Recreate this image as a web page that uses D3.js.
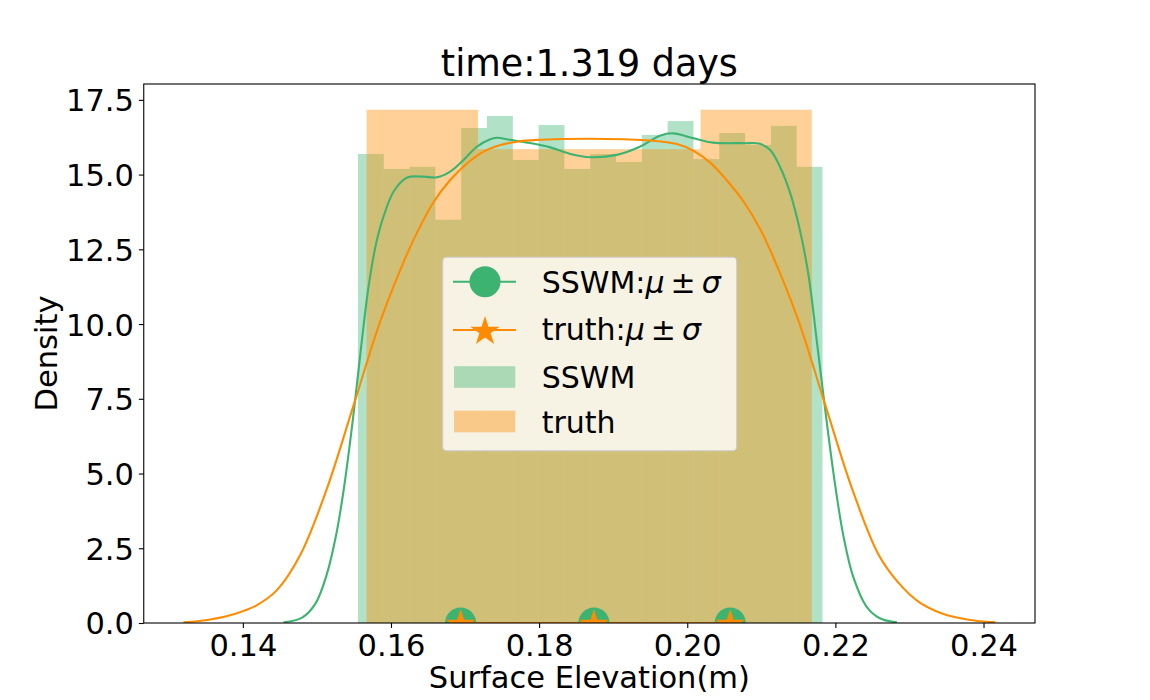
<!DOCTYPE html>
<html>
<head>
<meta charset="utf-8">
<script src="https://cdn.jsdelivr.net/npm/d3@7"></script>
<style>
  body { margin: 0; background: #fff; }
  text { font-family: "DejaVu Sans", sans-serif; }
</style>
</head>
<body>
<div id="chart"></div>
<script>
// Histogram densities
var sswmBinRange = [0.15554, 0.21826];
var sswmDensity = [15.69, 15.19, 15.26, 13.49, 16.56, 16.96, 15.49, 16.66, 15.19,
                   15.69, 15.42, 16.33, 16.79, 15.52, 16.39, 15.99, 16.63, 15.26];
var truthBinRange = [0.15671, 0.21682];
var truthDensity = [17.17, 15.85, 15.85, 17.17];

// KDE curves
var sswmKdeX = [0.1455, 0.1480, 0.1498, 0.1513, 0.1526, 0.1537, 0.1549, 0.1560, 0.1570, 0.1580,
                0.1590, 0.1604, 0.1622, 0.1644, 0.1662, 0.1680, 0.1698, 0.1716, 0.1734, 0.1743,
                0.1761, 0.1784, 0.1815, 0.1842, 0.1869, 0.1905, 0.1936, 0.1963, 0.1981, 0.2008,
                0.2035, 0.2076, 0.2098, 0.2112, 0.2125, 0.2139, 0.2152, 0.2164, 0.2176, 0.2188,
                0.2200, 0.2211, 0.2224, 0.2242, 0.2260, 0.2283];
var sswmKdeY = [0.02, 0.18, 0.65, 1.60, 2.95, 4.60, 6.90, 9.30, 11.30, 12.70,
                13.60, 14.45, 14.90, 14.93, 14.91, 15.10, 15.49, 15.93, 16.18, 16.23,
                16.16, 16.07, 15.91, 15.69, 15.58, 15.66, 15.93, 16.30, 16.38, 16.22,
                16.07, 16.05, 16.03, 15.82, 15.27, 14.38, 13.15, 11.59, 9.20, 6.79,
                4.56, 2.89, 1.55, 0.55, 0.16, 0.02];

var truthKdeX = [0.1320, 0.1356, 0.1392, 0.1419, 0.1446, 0.1478, 0.1514, 0.1550, 0.1586, 0.1622,
                 0.1638, 0.1658, 0.1680, 0.1703, 0.1725, 0.1748, 0.1770, 0.1797, 0.1833, 0.1869,
                 0.1914, 0.1950, 0.1986, 0.2008, 0.2031, 0.2053, 0.2076, 0.2098, 0.2114, 0.2150,
                 0.2186, 0.2222, 0.2258, 0.2285, 0.2313, 0.2344, 0.2380, 0.2416];
var truthKdeY = [0.02, 0.12, 0.33, 0.60, 1.10, 2.30, 4.53, 7.32, 10.12, 12.36,
                 13.20, 14.10, 14.82, 15.38, 15.77, 15.99, 16.10, 16.16, 16.19, 16.20,
                 16.18, 16.14, 16.02, 15.80, 15.40, 14.82, 14.10, 13.20, 12.36, 10.12,
                 7.32, 4.53, 2.30, 1.35, 0.70, 0.32, 0.11, 0.02];

// mean - sigma, mean, mean + sigma
var sswmStats = [0.1694, 0.1874, 0.2058];
var truthStats = [0.1694, 0.1874, 0.2058];

var xTicks = [0.14, 0.16, 0.18, 0.20, 0.22, 0.24];
var yTicks = [0, 2.5, 5, 7.5, 10, 12.5, 15, 17.5];

var green = "#3cb371";
var orange = "#ff8c00";

var svgWidth = 1150;
var svgHeight = 700;
var margin = { top: 84, right: 115, bottom: 77, left: 143.75 };
var width = svgWidth - margin.left - margin.right;
var height = svgHeight - margin.top - margin.bottom;

var svg = d3.select("#chart")
  .append("svg")
  .attr("width", svgWidth)
  .attr("height", svgHeight);

var chartGroup = svg.append("g")
  .attr("transform", `translate(${margin.left}, ${margin.top})`);

svg.append("defs").append("clipPath")
  .attr("id", "plotClip")
  .append("rect")
  .attr("x", 0).attr("y", 0)
  .attr("width", width).attr("height", height);

var xScale = d3.scaleLinear().domain([0.12662, 0.24695]).range([0, width]);
var yScale = d3.scaleLinear().domain([0, 18.03]).range([height, 0]);

function bins(range, values) {
  var step = (range[1] - range[0]) / values.length;
  return values.map(function(v, i) {
    return { x0: range[0] + i * step, x1: range[0] + (i + 1) * step, v: v };
  });
}

var plot = chartGroup.append("g").attr("clip-path", "url(#plotClip)");

// histograms (green first, orange over it)
[[bins(sswmBinRange, sswmDensity), green], [bins(truthBinRange, truthDensity), orange]]
  .forEach(function(h) {
    plot.append("g").selectAll("rect")
      .data(h[0])
      .enter()
      .append("rect")
      .attr("x", d => xScale(d.x0))
      .attr("width", d => xScale(d.x1) - xScale(d.x0))
      .attr("y", d => yScale(d.v))
      .attr("height", d => yScale(0) - yScale(d.v))
      .attr("fill", h[1])
      .attr("fill-opacity", 0.4);
  });

var line = d3.line()
  .x(d => xScale(d[0]))
  .y(d => yScale(d[1]))
  .curve(d3.curveCatmullRom.alpha(0.5));

// KDE lines
plot.append("path")
  .datum(d3.zip(sswmKdeX, sswmKdeY))
  .attr("d", line)
  .attr("fill", "none")
  .attr("stroke", green)
  .attr("stroke-width", 2.1);

plot.append("path")
  .datum(d3.zip(truthKdeX, truthKdeY))
  .attr("d", line)
  .attr("fill", "none")
  .attr("stroke", orange)
  .attr("stroke-width", 2.1);

// mu +- sigma markers
var starR = 15.5;
var star = d3.symbol().type(d3.symbolStar).size(starR * starR / 0.8908130915292852);

plot.append("path")
  .datum(sswmStats.map(d => [d, 0]))
  .attr("d", d3.line().x(d => xScale(d[0])).y(d => yScale(d[1])))
  .attr("stroke", green)
  .attr("stroke-width", 2.1);

plot.selectAll(".sswmDot")
  .data(sswmStats)
  .enter()
  .append("circle")
  .attr("class", "sswmDot")
  .attr("cx", d => xScale(d))
  .attr("cy", yScale(0))
  .attr("r", 15.5)
  .attr("fill", green);

plot.append("path")
  .datum(truthStats.map(d => [d, 0]))
  .attr("d", d3.line().x(d => xScale(d[0])).y(d => yScale(d[1])))
  .attr("stroke", orange)
  .attr("stroke-width", 2.1);

plot.selectAll(".truthStar")
  .data(truthStats)
  .enter()
  .append("path")
  .attr("class", "truthStar")
  .attr("d", star)
  .attr("transform", d => `translate(${xScale(d)}, ${yScale(0) + 1.5})`)
  .attr("fill", orange);

// axes
var bottomAxis = d3.axisBottom(xScale)
  .tickValues(xTicks)
  .tickFormat(d3.format(".2f"))
  .tickSize(4.9)
  .tickPadding(4.9)
  .tickSizeOuter(0);

var leftAxis = d3.axisLeft(yScale)
  .tickValues(yTicks)
  .tickFormat(d3.format(".1f"))
  .tickSize(4.9)
  .tickPadding(4.9)
  .tickSizeOuter(0);

var xg = chartGroup.append("g")
  .attr("transform", `translate(0, ${height})`)
  .call(bottomAxis);

var yg = chartGroup.append("g")
  .call(leftAxis);

[xg, yg].forEach(function(g) {
  g.select(".domain").remove();
  g.selectAll("line").attr("stroke", "#000").attr("stroke-width", 1.1);
  g.selectAll("text")
    .attr("fill", "#000")
    .style("font-family", "DejaVu Sans")
    .style("font-size", "30.5px");
});
xg.selectAll("text").attr("dy", "0.76em");
yg.selectAll("text").attr("dy", "0.36em");

// frame
chartGroup.append("rect")
  .attr("width", width)
  .attr("height", height)
  .attr("fill", "none")
  .attr("stroke", "#000")
  .attr("stroke-width", 1.1);

// labels
svg.append("text")
  .attr("x", margin.left + width / 2)
  .attr("y", 76)
  .attr("text-anchor", "middle")
  .style("font-size", "36.5px")
  .text("time:1.319 days");

svg.append("text")
  .attr("x", margin.left + width / 2)
  .attr("y", 688)
  .attr("text-anchor", "middle")
  .style("font-size", "30.5px")
  .text("Surface Elevation(m)");

svg.append("text")
  .attr("transform", `translate(57, ${margin.top + height / 2}) rotate(-90)`)
  .attr("text-anchor", "middle")
  .style("font-size", "30.5px")
  .text("Density");

// legend
var legend = svg.append("g");
legend.append("rect")
  .attr("x", 442.7).attr("y", 257.3)
  .attr("width", 294).attr("height", 193.4)
  .attr("rx", 4)
  .attr("fill", "#fff").attr("fill-opacity", 0.8)
  .attr("stroke", "#ccc").attr("stroke-width", 1.1);

var legendItems = [
  { name: "SSWM", math: true, kind: "dot", color: green, cy: 281.7, base: 293.3 },
  { name: "truth", math: true, kind: "star", color: orange, cy: 330, base: 340 },
  { name: "SSWM", math: false, kind: "patch", color: green, cy: 377, base: 388.3 },
  { name: "truth", math: false, kind: "patch", color: orange, cy: 421.5, base: 432.5 }
];

legendItems.forEach(function(d) {
  if (d.kind === "patch") {
    legend.append("rect")
      .attr("x", 454).attr("y", d.cy - 10.8)
      .attr("width", 61.3).attr("height", 21.6)
      .attr("fill", d.color).attr("fill-opacity", 0.4);
  } else {
    legend.append("line")
      .attr("x1", 453).attr("x2", 516)
      .attr("y1", d.cy).attr("y2", d.cy)
      .attr("stroke", d.color).attr("stroke-width", 2.1);
    if (d.kind === "dot") {
      legend.append("circle")
        .attr("cx", 485).attr("cy", d.cy).attr("r", 15.5)
        .attr("fill", d.color);
    } else {
      legend.append("path")
        .attr("d", star)
        .attr("transform", `translate(485, ${d.cy + 1.5})`)
        .attr("fill", d.color);
    }
  }
  var t = legend.append("text")
    .attr("x", 541.7).attr("y", d.base)
    .style("font-size", "30px");
  if (d.math) {
    t.append("tspan").text(d.name + ":");
    t.append("tspan").style("font-style", "italic").text("μ");
    t.append("tspan").text("\u2009±\u2009");
    t.append("tspan").style("font-style", "italic").text("σ");
  } else {
    t.text(d.name);
  }
});
</script>
</body>
</html>
